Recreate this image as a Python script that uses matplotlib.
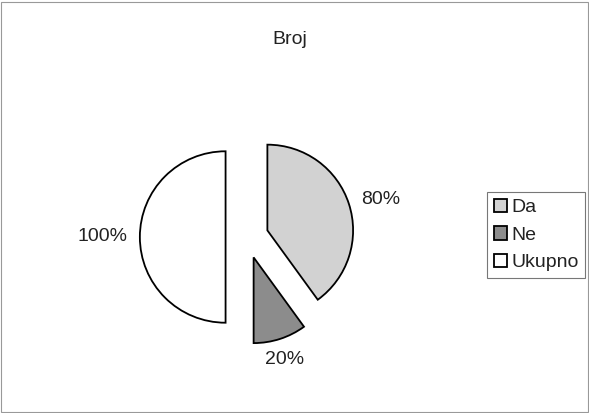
import matplotlib.pyplot as plt
from matplotlib.patches import Rectangle

# Podaci
kategorije = ['Da', 'Ne', 'Ukupno']
vrijednosti = [80, 20, 100]
oznake = ['80%', '20%', '100%']
boje = ['#d2d2d2', '#8c8c8c', '#ffffff']

plt.rcParams['font.family'] = ['Liberation Sans', 'DejaVu Sans']

fig = plt.figure(figsize=(5.89, 4.13), dpi=100)
fig.patch.set_facecolor('white')

ax = fig.add_axes([127 / 589, 56 / 413, 240 / 589, 240 / 413])
wedges, texts = ax.pie(vrijednosti, labels=oznake, colors=boje,
                       startangle=90, counterclock=False,
                       explode=[0.25, 0.25, 0.25], labeldistance=1.15,
                       radius=1.0,
                       wedgeprops=dict(edgecolor='black', linewidth=1.3),
                       textprops=dict(fontsize=14, color='#222222'))
# oznaka 20% centrirana ispod isjecka
texts[1].set_horizontalalignment('center')
texts[1].set_verticalalignment('top')
ax.set_xlim(-1.4, 1.4)
ax.set_ylim(-1.4, 1.4)
ax.set_aspect('equal')
ax.axis('off')

fig.text(290 / 589, 1 - 40 / 413, 'Broj', ha='center', va='center',
         fontsize=14, color='#222222')

leg = fig.legend(wedges, kategorije, loc='center left',
                 bbox_to_anchor=(487 / 589, 1 - 235 / 413),
                 frameon=True, fancybox=False, fontsize=14,
                 handlelength=0.7, handleheight=0.7, handletextpad=0.2,
                 borderpad=0.35, labelspacing=0.5, borderaxespad=0)
leg.get_frame().set_edgecolor('#555555')
leg.get_frame().set_linewidth(0.8)
for t in leg.get_texts():
    t.set_color('#222222')

# okvir oko cijele slike
fig.patches.append(Rectangle((0.002, 0.002), 0.996, 0.994, transform=fig.transFigure,
                             fill=False, edgecolor='#999999', linewidth=0.8))

plt.savefig('out.png', dpi=100)
